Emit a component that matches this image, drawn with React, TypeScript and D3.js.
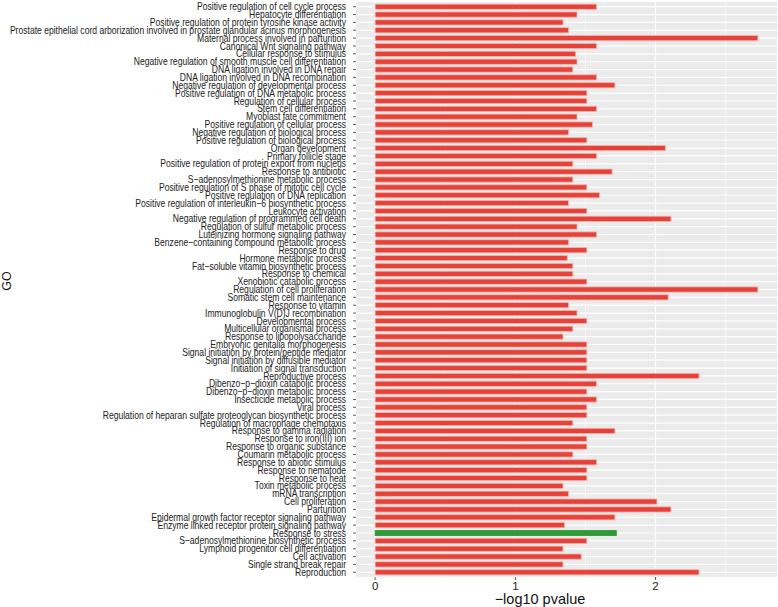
import React from 'react';
import * as d3 from 'd3';

const terms = [
  'Positive regulation of cell cycle process',
  'Hepatocyte differentiation',
  'Positive regulation of protein tyrosine kinase activity',
  'Prostate epithelial cord arborization involved in prostate glandular acinus morphogenesis',
  'Maternal process involved in parturition',
  'Canonical Wnt signaling pathway',
  'Cellular response to stimulus',
  'Negative regulation of smooth muscle cell differentiation',
  'DNA ligation involved in DNA repair',
  'DNA ligation involved in DNA recombination',
  'Negative regulation of developmental process',
  'Positive regulation of DNA metabolic process',
  'Regulation of cellular process',
  'Stem cell differentiation',
  'Myoblast fate commitment',
  'Positive regulation of cellular process',
  'Negative regulation of biological process',
  'Positive regulation of biological process',
  'Organ development',
  'Primary follicle stage',
  'Positive regulation of protein export from nucleus',
  'Response to antibiotic',
  'S\u2212adenosylmethionine metabolic process',
  'Positive regulation of S phase of mitotic cell cycle',
  'Positive regulation of DNA replication',
  'Positive regulation of interleukin\u22126 biosynthetic process',
  'Leukocyte activation',
  'Negative regulation of programmed cell death',
  'Regulation of sulfur metabolic process',
  'Luteinizing hormone signaling pathway',
  'Benzene\u2212containing compound metabolic process',
  'Response to drug',
  'Hormone metabolic process',
  'Fat\u2212soluble vitamin biosynthetic process',
  'Response to chemical',
  'Xenobiotic catabolic process',
  'Regulation of cell proliferation',
  'Somatic stem cell maintenance',
  'Response to vitamin',
  'Immunoglobulin V(D)J recombination',
  'Developmental process',
  'Multicellular organismal process',
  'Response to lipopolysaccharide',
  'Embryonic genitalia morphogenesis',
  'Signal initiation by protein/peptide mediator',
  'Signal initiation by diffusible mediator',
  'Initiation of signal transduction',
  'Reproductive process',
  'Dibenzo\u2212p\u2212dioxin catabolic process',
  'Dibenzo\u2212p\u2212dioxin metabolic process',
  'Insecticide metabolic process',
  'Viral process',
  'Regulation of heparan sulfate proteoglycan biosynthetic process',
  'Regulation of macrophage chemotaxis',
  'Response to gamma radiation',
  'Response to iron(III) ion',
  'Response to organic substance',
  'Coumarin metabolic process',
  'Response to abiotic stimulus',
  'Response to nematode',
  'Response to heat',
  'Toxin metabolic process',
  'mRNA transcription',
  'Cell proliferation',
  'Parturition',
  'Epidermal growth factor receptor signaling pathway',
  'Enzyme linked receptor protein signaling pathway',
  'Response to stress',
  'S\u2212adenosylmethionine biosynthetic process',
  'Lymphoid progenitor cell differentiation',
  'Cell activation',
  'Single strand break repair',
  'Reproduction',
];

// -log10 pvalue per term, same order as terms
const pvals = [
  1.58, 1.44, 1.34, 1.38, 2.73, 1.58, 1.43, 1.44, 1.41, 1.58,
  1.71, 1.51, 1.51, 1.58, 1.44, 1.55, 1.38, 1.51, 2.07, 1.58,
  1.41, 1.69, 1.41, 1.51, 1.60, 1.38, 1.51, 2.11, 1.44, 1.58,
  1.38, 1.51, 1.37, 1.41, 1.41, 1.51, 2.73, 2.09, 1.38, 1.44,
  1.51, 1.41, 1.34, 1.51, 1.51, 1.51, 1.51, 2.31, 1.58, 1.51,
  1.58, 1.51, 1.51, 1.41, 1.71, 1.51, 1.51, 1.41, 1.58, 1.51,
  1.51, 1.34, 1.38, 2.01, 2.11, 1.71, 1.35, 1.72, 1.51, 1.34,
  1.47, 1.34, 2.31,
];

const highlighted = ['Response to stress'];
const xTicks = [0, 1, 2];
const xMinor = [0.5, 1.5, 2.5];

const W = 778;
const H = 607;
const panel = { left: 356, right: 777, top: 2, bottom: 577 };

export default function App() {
  const maxV = d3.max(pvals) as number;
  const x = d3
    .scaleLinear()
    .domain([-maxV * 0.05, maxV * 1.05])
    .range([panel.left, panel.right]);
  const y = d3
    .scalePoint<string>()
    .domain(terms)
    .range([panel.top, panel.bottom])
    .padding(0.6);
  const barH = y.step() * 0.66;
  const font = "'Liberation Sans', Arial, sans-serif";

  return (
    <svg
      width={W}
      height={H}
      viewBox={`0 0 ${W} ${H}`}
      style={{ position: 'absolute', left: 0, top: 0, background: '#fff' }}
    >
      <rect
        x={panel.left}
        y={panel.top}
        width={panel.right - panel.left}
        height={panel.bottom - panel.top}
        fill="#ebebeb"
      />
      {xMinor.map((t) => (
        <line key={'m' + t} x1={x(t)} x2={x(t)} y1={panel.top} y2={panel.bottom} stroke="#fff" strokeWidth={0.6} />
      ))}
      {xTicks.map((t) => (
        <line key={'g' + t} x1={x(t)} x2={x(t)} y1={panel.top} y2={panel.bottom} stroke="#fff" strokeWidth={1.2} />
      ))}
      {terms.map((t) => (
        <line key={'h' + t} x1={panel.left} x2={panel.right} y1={y(t)} y2={y(t)} stroke="#fff" strokeWidth={1.2} />
      ))}
      {terms.map((t, i) => {
        const hi = highlighted.includes(t);
        return (
          <rect
            key={'b' + t}
            x={x(0)}
            y={(y(t) as number) - barH / 2}
            width={x(pvals[i]) - x(0)}
            height={barH}
            fill={hi ? '#2f9a37' : '#e5423a'}
            stroke={hi ? '#2f9a37' : '#f5b3ab'}
            strokeWidth={0.8}
          />
        );
      })}
      {terms.map((t) => (
        <g key={'l' + t}>
          <line x1={panel.left - 3} x2={panel.left} y1={y(t)} y2={y(t)} stroke="#333" strokeWidth={0.8} />
          {/* condensed label font, like the narrow Helvetica in the reference */}
          <text
            transform={`translate(${panel.left - 10},${(y(t) as number) + 3.6}) scale(0.825,1)`}
            textAnchor="end"
            fontFamily={font}
            fontSize={10.4}
            fill="#222"
          >
            {t}
          </text>
        </g>
      ))}
      {xTicks.map((t) => (
        <g key={'x' + t}>
          <line x1={x(t)} x2={x(t)} y1={panel.bottom} y2={panel.bottom + 3} stroke="#333" strokeWidth={0.8} />
          <text
            x={x(t)}
            y={panel.bottom + 13}
            textAnchor="middle"
            fontFamily={font}
            fontSize={11.5}
            fill="#222"
          >
            {t}
          </text>
        </g>
      ))}
      <text
        x={540}
        y={604}
        textAnchor="middle"
        fontFamily={font}
        fontSize={14.5}
        fill="#111"
      >
        {'\u2212log10 pvalue'}
      </text>
      <text
        transform={`translate(10.5,281) rotate(-90)`}
        textAnchor="middle"
        fontFamily={font}
        fontSize={12.5}
        fill="#111"
      >
        GO
      </text>
    </svg>
  );
}
